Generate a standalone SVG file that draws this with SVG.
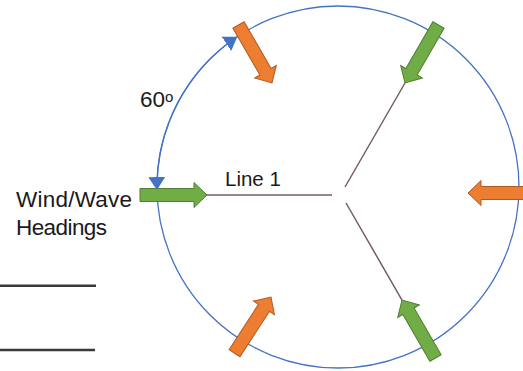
<svg xmlns="http://www.w3.org/2000/svg" xmlns:xlink="http://www.w3.org/1999/xlink" width="523" height="371" viewBox="0 0 523 371">
  <style>
    .lbl { font-family: "Liberation Sans", Arial, sans-serif; fill: #1a1a1a; }
    .ring { fill: none; stroke: #4472C4; stroke-width: 1.3; }
    .line { stroke: #765f5f; stroke-width: 1.5; fill: none; }
    .green { fill: #70AD47; stroke: #507E32; stroke-width: 1; }
    .orange { fill: #ED7D31; stroke: #AE5A21; stroke-width: 1; }
    .rule { stroke: #3a3a3a; stroke-width: 2.6; }
  </style>
  <defs>
    <!-- block arrow pointing along +x, tip at the origin -->
    <path id="blk" d="M-67,-6.5 L-13,-6.5 L-13,-12.5 L0,0 L-13,12.5 L-13,6.5 L-67,6.5 Z"/>
    <marker id="tri" markerUnits="userSpaceOnUse" markerWidth="14" markerHeight="18" refX="13" refY="8.5" orient="auto-start-reverse">
      <path d="M0,0 L13,8.5 L0,17 Z" fill="#4472C4"/>
    </marker>
  </defs>

  <rect width="523" height="371" fill="#ffffff"/>

  <!-- heading circle -->
  <g id="heading-circle">
    <ellipse class="ring" cx="338" cy="187" rx="181" ry="181"/>
  </g>

  <!-- 60 degree spacing arc -->
  <g id="angle-arc">
    <path class="ring" d="M237.3,36.7 A181,181 0 0 0 157,190" marker-start="url(#tri)" marker-end="url(#tri)"/>
    <text class="lbl" x="140" y="107" font-size="22.5">60<tspan font-size="15" dy="-5">o</tspan></text>
  </g>

  <!-- mooring lines -->
  <g id="connectors">
    <line class="line" x1="207" y1="195" x2="332" y2="195"/>
    <line class="line" x1="345" y1="187" x2="405" y2="83"/>
    <line class="line" x1="346" y1="203" x2="402" y2="300"/>
  </g>

  <g id="line1-label">
    <text class="lbl" x="225" y="185.7" font-size="20.5">Line 1</text>
  </g>

  <g id="legend">
    <text class="lbl" x="16" y="206.5" font-size="22.5" textLength="116">Wind/Wave</text>
    <text class="lbl" x="16" y="234.5" font-size="22.5" textLength="91">Headings</text>
  </g>

  <!-- heading arrows -->
  <g id="heading-180"><use xlink:href="#blk" class="green" transform="translate(207,195)"/></g>
  <g id="heading-120"><use xlink:href="#blk" class="orange" transform="translate(272,83) rotate(60)"/></g>
  <g id="heading-60"><use xlink:href="#blk" class="green" transform="translate(405,83) rotate(120)"/></g>
  <g id="heading-0"><use xlink:href="#blk" class="orange" transform="translate(468,193) rotate(180)"/></g>
  <g id="heading-300"><use xlink:href="#blk" class="green" transform="translate(402,300) rotate(240)"/></g>
  <g id="heading-240"><use xlink:href="#blk" class="orange" transform="translate(271,297) rotate(-57)"/></g>

  <!-- underline rules -->
  <g id="rules">
    <line class="rule" x1="0" y1="285.7" x2="96" y2="285.7"/>
    <line class="rule" x1="0" y1="350" x2="95" y2="350"/>
  </g>
</svg>
